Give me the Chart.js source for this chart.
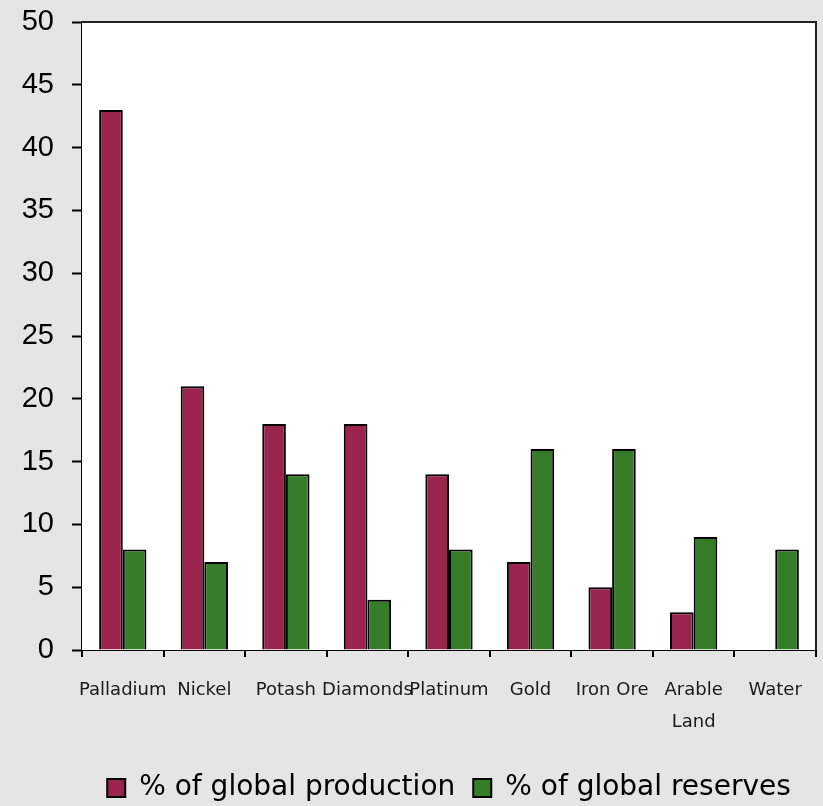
<!DOCTYPE html>
<html>
<head>
<meta charset="utf-8">
<script src="https://cdn.jsdelivr.net/npm/chart.js@4/dist/chart.umd.min.js"></script>
<style>
  html, body { margin: 0; padding: 0; background: #e5e5e5; }
  #wrap { width: 823px; height: 806px; position: relative; }
</style>
</head>
<body>
<div id="wrap"><canvas id="c" width="823" height="806"></canvas></div>
<script>
// Commodity categories (multi-line labels as arrays)
const categories = ['Palladium', 'Nickel', 'Potash', 'Diamonds', 'Platinum', 'Gold', 'Iron Ore', ['Arable', 'Land'], 'Water'];
// Share of world totals, in percent
const productionShare = [43, 21, 18, 18, 14, 7, 5, 3, null];
const reservesShare = [8, 7, 14, 4, 8, 16, 16, 9, 8];
const seriesNames = ['% of global production', '% of global reserves'];
const yTicks = [0, 5, 10, 15, 20, 25, 30, 35, 40, 45, 50];

// White plot area with a dark frame
const plotFrame = {
  id: 'plotFrame',
  beforeDatasetsDraw(chart) {
    const { ctx, chartArea: a } = chart;
    ctx.save();
    ctx.fillStyle = '#ffffff';
    ctx.fillRect(a.left, a.top, a.right - a.left, a.bottom - a.top);
    ctx.restore();
  },
  afterDraw(chart) {
    const { ctx, chartArea: a } = chart;
    ctx.save();
    ctx.strokeStyle = '#222222';
    ctx.lineWidth = 2;
    ctx.beginPath();
    ctx.moveTo(a.left, a.top);
    ctx.lineTo(a.right, a.top);
    ctx.lineTo(a.right, a.bottom);
    ctx.stroke();
    ctx.restore();
  }
};

new Chart(document.getElementById('c'), {
  type: 'bar',
  data: {
    labels: categories,
    datasets: [
      { label: seriesNames[0], data: productionShare, backgroundColor: '#9b244f', borderColor: '#000000', borderWidth: 2, borderSkipped: 'bottom' },
      { label: seriesNames[1], data: reservesShare, backgroundColor: '#377c29', borderColor: '#000000', borderWidth: 2, borderSkipped: 'bottom' }
    ]
  },
  options: {
    responsive: false,
    animation: false,
    devicePixelRatio: 1,
    layout: { padding: { top: 22, right: 7, left: 0, bottom: -6 } },
    datasets: { bar: { categoryPercentage: 0.58, barPercentage: 1.0 } },
    scales: {
      x: {
        grid: { offset: true, drawOnChartArea: false, color: '#000000', tickLength: 7, tickWidth: 2, lineWidth: 2 },
        border: { color: '#000000', width: 2 },
        ticks: {
          color: '#1a1a1a', maxRotation: 0, autoSkip: false, padding: 18,
          font: { family: 'DejaVu Sans', size: 18, lineHeight: 1.75 }
        },
        afterFit(scale) { scale.height = 106; }
      },
      y: {
        min: 0, max: 50,
        afterBuildTicks(scale) { scale.ticks = yTicks.map(v => ({ value: v })); },
        grid: { drawOnChartArea: false, color: '#000000', tickLength: 10, tickWidth: 2 },
        border: { color: '#000000', width: 2 },
        ticks: {
          color: '#000000', padding: 18,
          font: { family: 'Liberation Sans', size: 29 }
        },
        afterFit(scale) {
          scale.width = 82;
          scale.paddingTop = 0;
          scale.paddingBottom = 0;
        }
      }
    },
    plugins: {
      legend: {
        position: 'bottom',
        fullSize: false,
        labels: {
          color: '#000000', boxWidth: 18, boxHeight: 18, padding: 18,
          font: { family: 'DejaVu Sans', size: 28 }
        }
      },
      tooltip: { enabled: false }
    }
  },
  plugins: [plotFrame]
});
</script>
</body>
</html>
